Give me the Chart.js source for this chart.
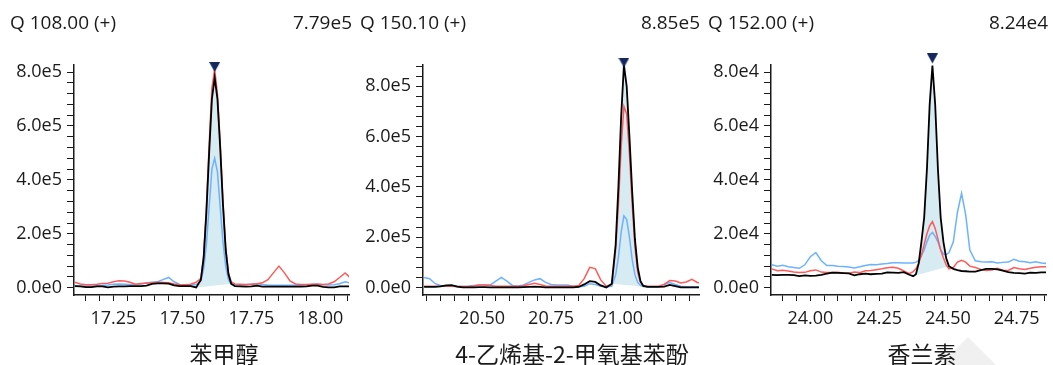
<!DOCTYPE html>
<html>
<head>
<meta charset="utf-8">
<script src="https://cdn.jsdelivr.net/npm/chart.js@4.4.1/dist/chart.umd.min.js"></script>
<style>
  html, body { margin: 0; padding: 0; background: #fff; }
  body { width: 1053px; height: 365px; position: relative; overflow: hidden; color: #1a1a1a; font-family: 'Open Sans', 'Noto Sans', sans-serif; }
  .panel { position: absolute; top: 0; height: 365px; }
  .panel canvas { position: absolute; left: 0; top: 0; }
  .hdr { position: absolute; top: 9px; font-size: 19px; line-height: 26px; white-space: nowrap; }
  .name { position: absolute; top: 338px; font-size: 23px; line-height: 30px; white-space: nowrap; transform: translateX(-50%); font-family: 'Noto Sans CJK SC', sans-serif; }
  .deco { position: absolute; left: 926px; top: 337px; width: 84px; height: 42px; background: #f0f0f0; clip-path: polygon(50% 0, 100% 100%, 0 100%); }
</style>
</head>
<body>
<div class="deco"></div>
<div id="root"></div>
<script>
// header / title texts
const ions = ['Q 108.00 (+)', 'Q 150.10 (+)', 'Q 152.00 (+)'];
const maxLabels = ['7.79e5', '8.85e5', '8.24e4'];
const names = ['苯甲醇', '4-乙烯基-2-甲氧基苯酚', '香兰素'];

// panel 1 - retention time (min) and intensities
const t1 = [17.11,17.13,17.15,17.17,17.19,17.21,17.23,17.25,17.27,17.29,17.31,17.33,17.35,17.37,17.39,17.41,17.43,17.45,17.47,17.49,17.51,17.53,17.55,
  17.567,17.577,17.587,17.597,17.607,17.617,17.627,17.637,17.647,17.657,17.667,17.677,
  17.69,17.71,17.73,17.75,17.77,17.79,17.81,17.83,17.85,17.87,17.89,17.91,17.93,17.95,17.97,17.99,18.01,18.03,18.05,18.07,18.09,18.105];
const black1 = [6000,5000,2000,2000,5000,5000,1000,4000,5000,5000,6000,6000,6000,8000,14000,16000,16000,15000,9000,6000,6000,6000,1000,
  30000,110000,280000,500000,700000,779000,700000,520000,310000,140000,50000,15000,
  6000,5000,4000,5000,8000,4000,4000,4000,4000,4000,4000,4000,4000,5000,8000,8000,3000,1000,1000,5000,5000,5000];
const red1 = [20000,14000,11000,11000,13000,16000,17000,22000,26000,25000,20000,13000,16000,17000,18000,20000,19000,18000,14000,11000,11000,13000,20000,
  35000,120000,300000,530000,740000,810000,720000,540000,320000,150000,55000,22000,
  14000,13000,12000,13000,15000,18000,30000,55000,80000,55000,25000,14000,12000,12000,13000,13000,12000,14000,22000,38000,55000,40000];
const blue1 = [7000,6000,6000,6000,7000,8000,10000,13000,14000,13000,12000,12000,14000,18000,20000,22000,30000,38000,22000,12000,9000,9000,12000,
  25000,70000,160000,300000,440000,480000,430000,300000,170000,80000,30000,12000,
  10000,10000,11000,14000,15000,12000,9000,9000,9000,9000,9000,9000,9000,10000,12000,14000,11000,10000,11000,15000,22000,18000];

// panel 2
const t2 = [20.29,20.31,20.33,20.35,20.37,20.39,20.41,20.43,20.45,20.47,20.49,20.51,20.53,20.55,20.57,20.59,20.61,20.63,20.65,20.67,
  20.69,20.71,20.73,20.75,20.77,20.79,20.81,20.83,20.85,20.87,20.89,20.91,20.93,20.95,20.97,
  20.984,20.994,21.004,21.014,21.024,21.034,21.044,21.054,21.064,21.074,21.084,
  21.10,21.12,21.14,21.16,21.18,21.20,21.22,21.24,21.26,21.28,21.29];
const black2 = [2000,2000,2000,4000,8000,9000,3000,0,0,0,1000,1000,0,0,0,0,0,0,1000,2000,
  3000,2000,0,0,0,0,0,0,2000,12000,25000,22000,8000,0,15000,
  170000,400000,680000,885000,800000,600000,380000,190000,80000,25000,6000,
  2000,2000,2000,3000,10000,5000,0,0,0,0,0];
const red2 = [5000,5000,5000,5000,5000,5000,4000,4000,4000,6000,10000,10000,8000,5000,5000,5000,5000,5000,7000,12000,
  17000,12000,6000,5000,5000,5000,5000,5000,8000,35000,80000,75000,30000,5000,12000,
  150000,330000,560000,720000,690000,530000,330000,160000,60000,20000,8000,
  5000,5000,5000,12000,28000,26000,18000,22000,32000,20000,18000];
const blue2 = [40000,35000,15000,8000,6000,5000,4000,4000,5000,8000,10000,10000,10000,25000,40000,25000,8000,5000,10000,20000,
  30000,35000,20000,12000,10000,10000,10000,5000,3000,5000,15000,12000,5000,3000,5000,
  50000,120000,220000,285000,270000,200000,110000,50000,20000,8000,4000,
  3000,3000,4000,12000,20000,12000,5000,3000,3000,3000,3000];

// panel 3
const t3 = [23.86,23.88,23.90,23.92,23.94,23.96,23.98,24.00,24.02,24.04,24.06,24.08,24.10,24.12,24.14,24.16,24.18,24.20,24.22,24.24,24.26,24.28,24.30,24.32,24.34,24.36,
  24.374,24.384,24.394,24.404,24.414,24.424,24.434,24.444,24.454,24.464,24.474,24.484,24.494,24.504,
  24.52,24.535,24.55,24.565,24.58,24.60,24.62,24.64,24.66,24.68,24.70,24.72,24.74,24.76,24.78,24.80,24.82,24.84,24.86];
const black3 = [4800,4700,4800,4800,4700,4300,4600,4400,4500,4800,5200,5600,5500,5400,5300,4600,5000,5200,5000,5100,5200,5700,5600,5500,5800,4800,
  4300,5000,9000,17000,26000,44000,68000,82400,68000,44000,26000,17000,11000,8000,
  7000,6500,6200,6100,6000,6000,6500,7000,7000,6800,6300,5800,5500,5400,5200,5600,5500,5700,5700];
const red3 = [7000,6300,6500,6200,5800,5600,5700,6300,6600,5800,5600,5600,5700,5500,5400,5800,5600,6300,6400,6700,7000,7400,7600,7200,6200,5200,
  6000,7000,9000,12000,16000,20000,23000,24500,22000,18000,14000,11000,8500,7000,
  7500,9500,10200,9500,8000,7500,6800,6400,6600,7200,6500,6400,7500,7000,6800,7200,7600,7800,7800];
const blue3 = [8500,8000,8300,7800,7500,7200,8500,11500,13000,10000,8200,8200,8000,7900,7700,7300,7800,8200,8600,8500,8800,9000,9300,9300,9200,9200,
  9200,9500,10000,12000,14000,17000,19500,20500,19000,17000,14000,12500,12300,13000,
  17000,28000,35000,27000,14000,10000,9600,9500,9600,9200,9400,9500,10500,9800,9600,9300,9600,9200,9000];

// integrated peak window and apex marker [time, intensity]
const peakWindows = [[17.55, 17.677], [20.97, 21.10], [24.374, 24.504]];
const apexMarks = [[17.617, 800000], [21.014, 875000], [24.444, 83200]];

// axis ranges, labelled ticks and minor tick steps
const xRanges = [[17.107, 18.104], [20.286, 21.286], [23.857, 24.857]];
const yRanges = [[-27000, 826000], [-30000, 885000], [-2700, 82600]];
const xLabelTicks = [[17.25, 17.5, 17.75, 18.0], [20.5, 20.75, 21.0], [24.0, 24.25, 24.5, 24.75]];
const yLabelTicks = [[0, 200000, 400000, 600000, 800000], [0, 200000, 400000, 600000, 800000], [0, 20000, 40000, 60000, 80000]];
const xMinorStep = 0.05;
const yMinorStep = [40000, 40000, 4000];

const series = [
  { t: t1, black: black1, red: red1, blue: blue1 },
  { t: t2, black: black2, red: red2, blue: blue2 },
  { t: t3, black: black3, red: red3, blue: blue3 },
];

// layout of the three panels on the page
const layout = [
  { left: 0, width: 356, axisW: 74, padR: 3, hdrL: 10, hdrR: 352, nameX: 224 },
  { left: 356, width: 350, axisW: 67, padR: 3, hdrL: 360, hdrR: 700, nameX: 572 },
  { left: 706, width: 347, axisW: 65, padR: 2, hdrL: 708, hdrR: 1048, nameX: 922 },
];

Chart.defaults.color = '#1a1a1a';
Chart.defaults.font.family = "'Open Sans', 'Noto Sans', sans-serif";

// downward triangle with its tip at the centre of the image
const marker = document.createElement('canvas');
marker.width = 11; marker.height = 20;
{
  const c = marker.getContext('2d');
  c.fillStyle = '#14285e';
  c.beginPath(); c.moveTo(0, 0); c.lineTo(11, 0); c.lineTo(5.5, 10); c.closePath(); c.fill();
}

// every minor step inside the axis range
const stepTicks = (min, max, step) => {
  const out = [];
  for (let k = Math.ceil(min / step - 1e-9); k * step <= max + 1e-9; k++) out.push({ value: +(k * step).toFixed(6) });
  return out;
};
const isIn = (v, list) => list.some(m => Math.abs(m - v) < 1e-6);
const root = document.getElementById('root');

series.forEach((s, i) => {
  const L = layout[i];

  const hl = document.createElement('div');
  hl.className = 'hdr'; hl.style.left = L.hdrL + 'px'; hl.textContent = ions[i];
  const hr = document.createElement('div');
  hr.className = 'hdr'; hr.style.right = (1053 - L.hdrR) + 'px'; hr.textContent = maxLabels[i];
  const nm = document.createElement('div');
  nm.className = 'name'; nm.style.left = L.nameX + 'px'; nm.textContent = names[i];

  const box = document.createElement('div');
  box.className = 'panel'; box.style.left = L.left + 'px'; box.style.width = L.width + 'px';
  const cv = document.createElement('canvas');
  cv.width = L.width; cv.height = 365;
  box.appendChild(cv);
  root.append(box, hl, hr, nm);

  const pts = ys => s.t.map((t, k) => ({ x: t, y: ys[k] }));
  const win = peakWindows[i];
  const areaPts = pts(s.black).filter(p => p.x >= win[0] - 1e-9 && p.x <= win[1] + 1e-9);
  const line = (data, color, width, order) => ({ data, borderColor: color, borderWidth: width, pointRadius: 0, fill: false, tension: 0, order });

  new Chart(cv, {
    type: 'line',
    data: {
      datasets: [
        { data: areaPts, fill: 'shape', backgroundColor: '#d7ebf3', borderWidth: 0, pointRadius: 0, order: 4 },
        line(pts(s.blue), '#6cb2ff', 1.5, 3),
        line(pts(s.red), '#ff5a5a', 1.5, 2),
        line(pts(s.black), '#000000', 1.8, 1),
        { data: [{ x: apexMarks[i][0], y: apexMarks[i][1] }], showLine: false, pointStyle: marker, pointRadius: 6, clip: false, order: 0 },
      ]
    },
    options: {
      responsive: false,
      animation: false,
      events: [],
      layout: { padding: { top: 65, right: L.padR, left: 0, bottom: 0 } },
      plugins: { legend: { display: false }, tooltip: { enabled: false } },
      scales: {
        x: {
          type: 'linear',
          min: xRanges[i][0], max: xRanges[i][1],
          afterBuildTicks: sc => { sc.ticks = stepTicks(sc.min, sc.max, xMinorStep); },
          afterFit: sc => { sc.height = 70; },
          border: { color: '#1a1a1a', width: 1.5 },
          grid: { drawOnChartArea: false, tickLength: 6, color: '#1a1a1a' },
          ticks: {
            autoSkip: false, maxRotation: 0, padding: 7,
            font: { size: 18 },
            callback: v => isIn(v, xLabelTicks[i]) ? v.toFixed(2) : ''
          }
        },
        y: {
          min: yRanges[i][0], max: yRanges[i][1],
          afterBuildTicks: sc => { sc.ticks = stepTicks(sc.min, sc.max, yMinorStep[i]); },
          afterFit: sc => { sc.width = L.axisW; },
          border: { color: '#1a1a1a', width: 1.5 },
          grid: { drawOnChartArea: false, tickLength: 7, color: '#1a1a1a' },
          ticks: {
            autoSkip: false, padding: 5,
            font: { size: 18 },
            callback: v => isIn(v, yLabelTicks[i]) ? v.toExponential(1).replace('e+', 'e') : ''
          }
        }
      }
    }
  });
});
</script>
</body>
</html>
